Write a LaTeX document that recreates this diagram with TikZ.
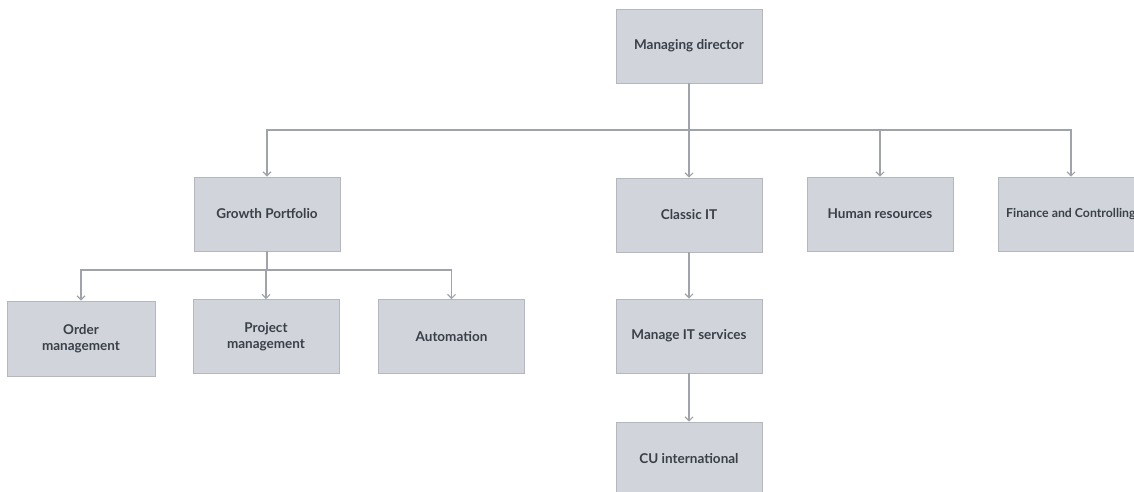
\documentclass[tikz,border=0pt]{standalone}
\usepackage{fontspec}
\setmainfont{Lato}
\usetikzlibrary{arrows.meta}
\definecolor{boxfill}{HTML}{D1D5DB}
\definecolor{boxline}{HTML}{B4B8BE}
\definecolor{wire}{HTML}{A0A4AA}
\definecolor{label}{HTML}{3A3F48}
\tikzset{
  unit/.style={draw=boxline, line width=0.9pt, fill=boxfill,
    minimum width=146pt, minimum height=74pt, inner sep=2pt,
    align=center, text=label, font=\bfseries\fontsize{13.5}{16}\selectfont},
  wide/.style={unit, minimum width=148pt, minimum height=75pt},
  link/.style={draw=wire, line width=1.3pt,
    -{Straight Barb[length=4pt,width=8pt,line width=1.1pt]}},
}
\begin{document}
\begin{tikzpicture}[x=1pt,y=-1pt]
\useasboundingbox (0,0) rectangle (1134,492);
\clip (0,0) rectangle (1134,492);
\fill[white] (0,0) rectangle (1134,492);

% top level
\node[unit] (md) at (689,46) {Managing director};

% departments
\node[unit] (gp) at (267,214) {Growth Portfolio};
\node[unit] (cit) at (689,215) {Classic IT};
\node[unit] (hr) at (880,214) {Human resources};
\node[unit] (fc) at (1071,214) {};
\node[text=label, font=\bfseries\fontsize{12.3}{15}\selectfont, anchor=west,
  inner sep=0pt] (fct) at (1006,214) {Finance and Controlling};

% growth portfolio teams
\node[wide] (om) at (81,338.5) {Order\\management};
\node[unit] (pm) at (266,336.5) {Project\\management};
\node[unit] (au) at (451.5,336.5) {Automation};

% classic IT chain
\node[unit] (mits) at (689,336) {Manage IT services};
\node[unit] (cu) at (689,459) {CU international};

% upper distribution bus
\coordinate (bus) at (689,130);
\draw[link] (md.south) -- (bus) -| (gp.north);
\draw[link] (md.south) -- (bus) -- (cit.north);
\draw[link] (md.south) -- (bus) -| (hr.north);
\draw[link] (md.south) -- (bus) -| (fc.north);

% lower distribution bus
\coordinate (lbus) at (267,270);
\draw[link] (gp.south) -- (lbus) -| (om.north);
\draw[link] (gp.south) -- (lbus) -| (pm.north);
\draw[link] (gp.south) -- (lbus) -| (au.north);

% classic IT chain links
\draw[link] (cit.south) -- (mits.north);
\draw[link] (mits.south) -- (cu.north);
\end{tikzpicture}
\end{document}
